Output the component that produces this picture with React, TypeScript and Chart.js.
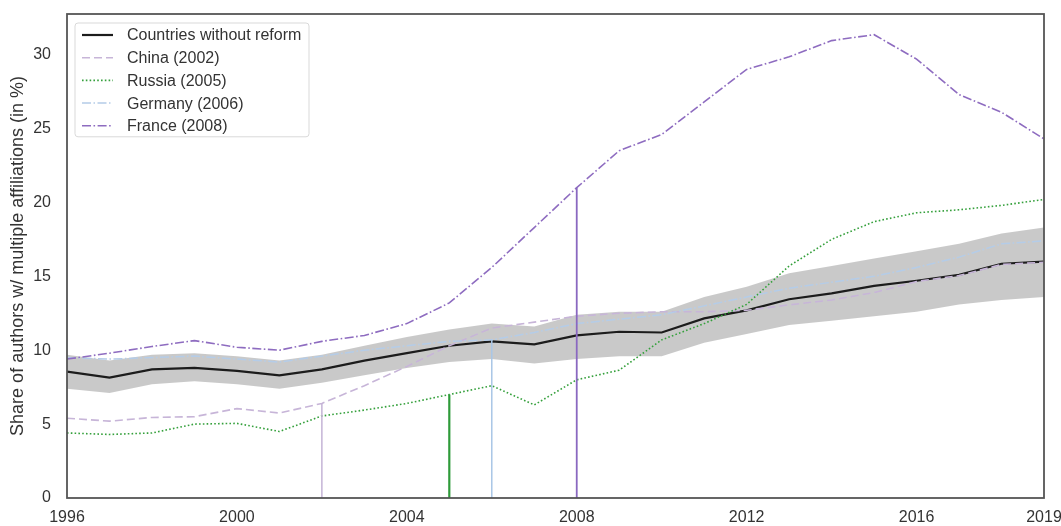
import React, { useEffect, useRef } from "react";
import { Chart, registerables } from "chart.js";

Chart.register(...registerables);

const years = [1996, 1997, 1998, 1999, 2000, 2001, 2002, 2003, 2004, 2005, 2006, 2007, 2008, 2009, 2010, 2011, 2012, 2013, 2014, 2015, 2016, 2017, 2018, 2019];

const noReform = [8.55, 8.15, 8.7, 8.8, 8.6, 8.3, 8.7, 9.3, 9.8, 10.3, 10.6, 10.4, 11.0, 11.25, 11.2, 12.15, 12.7, 13.45, 13.85, 14.35, 14.7, 15.1, 15.85, 16.0];
const bandUpper = [9.7, 9.3, 9.7, 9.8, 9.6, 9.3, 9.7, 10.3, 10.9, 11.4, 11.8, 11.6, 12.4, 12.6, 12.6, 13.6, 14.3, 15.2, 15.7, 16.2, 16.7, 17.2, 17.9, 18.3];
const bandLower = [7.4, 7.1, 7.7, 7.9, 7.7, 7.4, 7.8, 8.3, 8.8, 9.2, 9.4, 9.1, 9.4, 9.6, 9.6, 10.5, 11.1, 11.7, 12.0, 12.3, 12.6, 13.1, 13.4, 13.6];
const china = [5.4, 5.2, 5.45, 5.5, 6.05, 5.75, 6.4, 7.6, 8.9, 10.3, 11.5, 11.9, 12.3, 12.5, 12.6, 12.6, 12.7, 13.07, 13.4, 13.9, 14.65, 15.05, 15.8, 15.95];
const russia = [4.4, 4.3, 4.4, 5.0, 5.05, 4.5, 5.55, 5.95, 6.4, 7.0, 7.6, 6.3, 8.0, 8.65, 10.7, 11.8, 13.1, 15.7, 17.5, 18.7, 19.3, 19.5, 19.8, 20.2];
const germany = [9.5, 9.4, 9.5, 9.6, 9.4, 9.2, 9.6, 10.0, 10.3, 10.6, 10.7, 11.2, 11.8, 12.1, 12.4, 13.0, 13.6, 14.2, 14.6, 15.0, 15.6, 16.3, 17.2, 17.4];
const france = [9.4, 9.8, 10.25, 10.65, 10.2, 10.0, 10.6, 11.0, 11.8, 13.2, 15.6, 18.3, 21.0, 23.5, 24.6, 26.8, 29.0, 29.85, 30.95, 31.35, 29.7, 27.3, 26.1, 24.3];

const seriesLabels = ["Countries without reform", "China (2002)", "Russia (2005)", "Germany (2006)", "France (2008)"];
const reformYears = [2002, 2005, 2006, 2008];
const xTicks = [1996, 2000, 2004, 2008, 2012, 2016, 2019];
const yTicks = [0, 5, 10, 15, 20, 25, 30];

const FONT = "'Liberation Sans', Arial, Helvetica, sans-serif";

const pts = (vals: number[]) => years.map((x, i) => ({ x, y: vals[i] }));

const frameAndLegend = {
  id: "frameAndLegend",
  afterDraw(chart: any) {
    const { ctx, chartArea } = chart;
    const { left, top, right, bottom } = chartArea;
    ctx.save();
    ctx.strokeStyle = "#555555";
    ctx.lineWidth = 1.8;
    ctx.strokeRect(left, top, right - left, bottom - top);

    // legend
    const items = chart.data.datasets
      .filter((d: any) => d.isSeries)
      .sort((a: any, b: any) => seriesLabels.indexOf(a.label) - seriesLabels.indexOf(b.label));
    const bx = left + 8;
    const by = top + 9;
    const bw = 234;
    const rowH = 22.7;
    const bh = (items.length - 1) * rowH + 23;
    ctx.fillStyle = "rgba(255,255,255,0.85)";
    ctx.strokeStyle = "#d9d9d9";
    ctx.lineWidth = 1;
    ctx.beginPath();
    const r = 3;
    ctx.moveTo(bx + r, by);
    ctx.lineTo(bx + bw - r, by);
    ctx.quadraticCurveTo(bx + bw, by, bx + bw, by + r);
    ctx.lineTo(bx + bw, by + bh - r);
    ctx.quadraticCurveTo(bx + bw, by + bh, bx + bw - r, by + bh);
    ctx.lineTo(bx + r, by + bh);
    ctx.quadraticCurveTo(bx, by + bh, bx, by + bh - r);
    ctx.lineTo(bx, by + r);
    ctx.quadraticCurveTo(bx, by, bx + r, by);
    ctx.closePath();
    ctx.fill();
    ctx.stroke();

    items.forEach((d: any, i: number) => {
      const y = by + 12 + i * rowH;
      ctx.strokeStyle = d.borderColor;
      ctx.lineWidth = d.borderWidth;
      ctx.setLineDash(d.borderDash || []);
      ctx.lineCap = "butt";
      ctx.beginPath();
      ctx.moveTo(bx + 7, y);
      ctx.lineTo(bx + 38, y);
      ctx.stroke();
      ctx.setLineDash([]);
      ctx.fillStyle = "#333333";
      ctx.font = `16px ${FONT}`;
      ctx.textBaseline = "middle";
      ctx.textAlign = "left";
      ctx.fillText(d.label, bx + 52, y + 1);
    });
    ctx.restore();
  },
};

export default function App() {
  const ref = useRef<HTMLCanvasElement | null>(null);

  useEffect(() => {
    if (!ref.current) return;
    const idx = (yr: number) => years.indexOf(yr);
    const reformSeries = [china, russia, germany, france];
    const vColors = ["#c4b3d6", "#2e9b3a", "#a9c6e6", "#8a68c0"];
    const vWidths = [1.5, 2.2, 1.5, 1.8];

    const verticals = reformYears.map((yr, i) => ({
      label: "v" + yr,
      data: [{ x: yr, y: 0 }, { x: yr, y: reformSeries[i][idx(yr)] }],
      borderColor: vColors[i],
      borderWidth: vWidths[i],
      pointRadius: 0,
      fill: false,
      order: 0,
    }));

    const chart = new Chart(ref.current, {
      type: "line",
      data: {
        datasets: [
          ...verticals,
          {
            label: seriesLabels[4],
            isSeries: true,
            data: pts(france),
            borderColor: "#8e6cc0",
            borderWidth: 1.6,
            borderDash: [9, 2.5, 1.6, 2.5],
            pointRadius: 0,
            fill: false,
            order: 1,
          } as any,
          {
            label: seriesLabels[3],
            isSeries: true,
            data: pts(germany),
            borderColor: "#b4cce8",
            borderWidth: 1.5,
            borderDash: [9, 2.5, 1.5, 2.5],
            pointRadius: 0,
            fill: false,
            order: 2,
          },
          {
            label: seriesLabels[2],
            isSeries: true,
            data: pts(russia),
            borderColor: "#35a03c",
            borderWidth: 1.6,
            borderDash: [1.6, 2.2],
            pointRadius: 0,
            fill: false,
            order: 3,
          },
          {
            label: seriesLabels[1],
            isSeries: true,
            data: pts(china),
            borderColor: "#c7b5d8",
            borderWidth: 1.6,
            borderDash: [8, 4],
            pointRadius: 0,
            fill: false,
            order: 4,
          },
          {
            label: seriesLabels[0],
            isSeries: true,
            data: pts(noReform),
            borderColor: "#1c1c1c",
            borderWidth: 2.2,
            pointRadius: 0,
            fill: false,
            order: 5,
          },
          {
            label: "upper",
            data: pts(bandUpper),
            borderWidth: 0,
            borderColor: "rgba(0,0,0,0)",
            pointRadius: 0,
            fill: false,
            order: 10,
          },
          {
            label: "lower",
            data: pts(bandLower),
            borderWidth: 0,
            borderColor: "rgba(0,0,0,0)",
            backgroundColor: "rgba(0,0,0,0.21)",
            pointRadius: 0,
            fill: "-1",
            order: 11,
          },
        ] as any,
      },
      options: {
        animation: false,
        responsive: true,
        maintainAspectRatio: false,
        layout: { padding: { top: 14, right: 17, left: 0, bottom: 0 } },
        plugins: {
          legend: { display: false },
          tooltip: { enabled: false },
        },
        elements: { line: { tension: 0 } },
        scales: {
          x: {
            type: "linear",
            min: 1996,
            max: 2019,
            grid: { display: false, drawTicks: false },
            border: { display: false },
            afterBuildTicks: (s: any) => {
              s.ticks = xTicks.map((v) => ({ value: v }));
            },
            afterFit: (s: any) => {
              s.height = 28;
              s.paddingLeft = 0;
              s.paddingRight = 0;
              s.paddingTop = 0;
              s.paddingBottom = 0;
            },
            ticks: {
              autoSkip: false,
              maxRotation: 0,
              padding: 10,
              color: "#333333",
              font: { family: FONT, size: 16 },
              callback: (v: any) => String(v),
            },
          },
          y: {
            type: "linear",
            min: 0,
            max: 32.75,
            grid: { display: false, drawTicks: false },
            border: { display: false },
            afterBuildTicks: (s: any) => {
              s.ticks = yTicks.map((v) => ({ value: v }));
            },
            afterFit: (s: any) => {
              s.width = 67;
              s.paddingLeft = 0;
              s.paddingRight = 0;
              s.paddingTop = 0;
              s.paddingBottom = 0;
            },
            ticks: {
              padding: 16,
              color: "#333333",
              font: { family: FONT, size: 16 },
              callback: (v: any) => String(v),
            },
            title: {
              display: true,
              text: "Share of authors w/ multiple affiliations (in %)",
              color: "#333333",
              font: { family: FONT, size: 18 },
              padding: { top: 7, bottom: 0 },
            },
          },
        },
      },
      plugins: [frameAndLegend],
    });
    return () => chart.destroy();
  }, []);

  return (
    <div style={{ position: "fixed", left: 0, top: 0, width: 1061, height: 526, background: "#ffffff" }}>
      <canvas ref={ref} />
    </div>
  );
}
